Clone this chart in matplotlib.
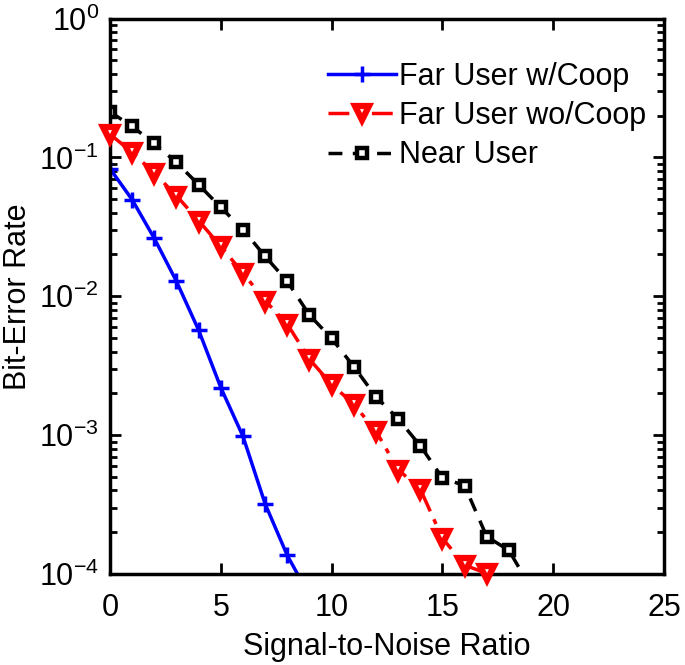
import numpy as np
import matplotlib
matplotlib.use("Agg")
import matplotlib.pyplot as plt

plt.rcParams.update({
    "font.family": ["Liberation Sans", "DejaVu Sans"],
    "font.size": 22,
    "mathtext.fontset": "custom",
    "mathtext.rm": "Liberation Sans",
})

# --- Dados ---
snr_coop = [0, 1, 2, 3, 4, 5, 6, 7, 8, 9]
ber_coop = [0.083, 0.0496, 0.0261, 0.0128, 0.0057, 0.0022, 0.00098, 0.00032, 0.000136, 0.00007]

snr_nocoop = [0, 1, 2, 3, 4, 5, 6, 7, 8, 9, 10, 11, 12, 13, 14, 15, 16, 17]
ber_nocoop = [0.147, 0.1086, 0.0772, 0.053, 0.035, 0.0229, 0.0147, 0.0093, 0.0063,
              0.00352, 0.00232, 0.00167, 0.00107, 0.000565, 0.000409, 0.000181,
              0.000116, 0.000101]

snr_near = [0, 1, 2, 3, 4, 5, 6, 7, 8, 9, 10, 11, 12, 13, 14, 15, 16, 17, 18, 19]
ber_near = [0.213, 0.167, 0.126, 0.092, 0.0636, 0.0437, 0.0302, 0.0194, 0.0128,
            0.00733, 0.00497, 0.00312, 0.00189, 0.00131, 0.00084, 0.000492,
            0.000433, 0.000186, 0.000148, 0.000079]

fig = plt.figure(figsize=(6.85, 6.65), dpi=100)
ax = fig.add_axes([0.1606, 0.1368, 0.8088, 0.8353])

ax.semilogy(snr_coop, ber_coop, "b-", lw=2.5, marker="+", ms=12, mew=2.5,
            label="Far User w/Coop")
ax.semilogy(snr_nocoop, ber_nocoop, color="red", ls=(0, (6, 2.5, 1.5, 2.5)), lw=2.5,
            marker="v", ms=10.5, mfc="white", mec="red", mew=4.5,
            label="Far User wo/Coop", clip_on=False, zorder=4)
ax.semilogy(snr_near, ber_near, color="black", ls=(0, (4, 3)), lw=2.5, marker="s",
            ms=7.5, mfc="white", mec="black", mew=3.2, label="Near User")

ax.set_xlim(0, 25)
ax.set_ylim(1e-4, 1)
ax.set_xticks([0, 5, 10, 15, 20, 25])
ax.set_xlabel("Signal-to-Noise Ratio", labelpad=6)
ax.set_ylabel("Bit-Error Rate")

for s in ax.spines.values():
    s.set_linewidth(2.5)
ax.tick_params(which="both", direction="in", top=True, right=True, width=2)
ax.tick_params(which="major", length=8, pad=8)
ax.tick_params(axis="x", which="major", pad=14)
ax.tick_params(which="minor", length=5)
ax.tick_params(axis="x", which="minor", bottom=False, top=False)

ax.legend(loc="upper right", frameon=False, handlelength=2.2, handletextpad=0.1,
          labelspacing=0.3, borderaxespad=0.2, bbox_to_anchor=(1.0, 0.955))

fig.savefig("out.png", dpi=100)
